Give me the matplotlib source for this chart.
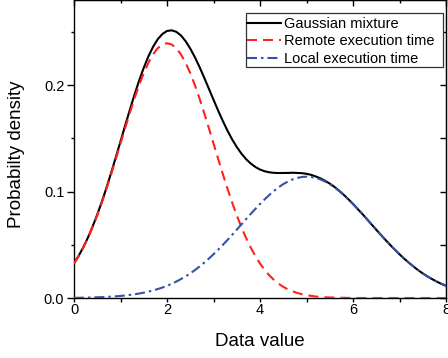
import numpy as np
import matplotlib
matplotlib.use("Agg")
import matplotlib.pyplot as plt
from matplotlib.patches import Rectangle
from matplotlib.ticker import MultipleLocator

plt.rcParams['font.family'] = ['Liberation Sans', 'DejaVu Sans']

# sample grid: 0 to 8, every 0.1
data_value = np.linspace(0, 8, 81)

# values
mixture = [0.0326, 0.0396, 0.0477, 0.0568, 0.0671, 0.0784, 0.0906, 0.1038, 0.1178, 0.1323,
           0.1471, 0.1621, 0.1767, 0.1909, 0.2042, 0.2163, 0.2270, 0.2360, 0.2431, 0.2480,
           0.2509, 0.2515, 0.2501, 0.2467, 0.2413, 0.2344, 0.2262, 0.2170, 0.2070, 0.1967,
           0.1863, 0.1761, 0.1664, 0.1573, 0.1491, 0.1419, 0.1357, 0.1305, 0.1264, 0.1231,
           0.1207, 0.1191, 0.1181, 0.1176, 0.1174, 0.1175, 0.1175, 0.1177, 0.1175, 0.1173,
           0.1167, 0.1157, 0.1142, 0.1124, 0.1101, 0.1075, 0.1044, 0.1009, 0.0970, 0.0928,
           0.0884, 0.0837, 0.0790, 0.0741, 0.0691, 0.0642, 0.0593, 0.0545, 0.0499, 0.0454,
           0.0411, 0.0370, 0.0332, 0.0296, 0.0262, 0.0231, 0.0203, 0.0178, 0.0154, 0.0133,
           0.0115]
remote = [0.0324, 0.0394, 0.0474, 0.0564, 0.0666, 0.0777, 0.0898, 0.1028, 0.1165, 0.1307,
          0.1452, 0.1597, 0.1738, 0.1874, 0.2000, 0.2113, 0.2210, 0.2289, 0.2347, 0.2382,
          0.2394, 0.2382, 0.2347, 0.2289, 0.2210, 0.2113, 0.2000, 0.1874, 0.1738, 0.1597,
          0.1452, 0.1307, 0.1165, 0.1028, 0.0898, 0.0777, 0.0666, 0.0564, 0.0474, 0.0394,
          0.0324, 0.0264, 0.0213, 0.0170, 0.0134, 0.0105, 0.0081, 0.0063, 0.0047, 0.0036,
          0.0027, 0.0020, 0.0014, 0.0010, 0.0007, 0.0005, 0.0004, 0.0003, 0.0002, 0.0001,
          0.0001, 0.0, 0.0, 0.0, 0.0, 0.0, 0.0, 0.0, 0.0, 0.0,
          0.0, 0.0, 0.0, 0.0, 0.0, 0.0, 0.0, 0.0, 0.0, 0.0,
          0.0]
local = [0.0002, 0.0002, 0.0003, 0.0004, 0.0005, 0.0007, 0.0008, 0.0010, 0.0013, 0.0016,
         0.0019, 0.0024, 0.0029, 0.0035, 0.0042, 0.0050, 0.0060, 0.0071, 0.0084, 0.0098,
         0.0115, 0.0133, 0.0154, 0.0178, 0.0203, 0.0231, 0.0262, 0.0296, 0.0332, 0.0370,
         0.0411, 0.0454, 0.0499, 0.0545, 0.0593, 0.0642, 0.0691, 0.0741, 0.0790, 0.0837,
         0.0883, 0.0927, 0.0968, 0.1006, 0.1040, 0.1070, 0.1094, 0.1114, 0.1128, 0.1137,
         0.1140, 0.1137, 0.1128, 0.1114, 0.1094, 0.1070, 0.1040, 0.1006, 0.0968, 0.0927,
         0.0883, 0.0837, 0.0790, 0.0741, 0.0691, 0.0642, 0.0593, 0.0545, 0.0499, 0.0454,
         0.0411, 0.0370, 0.0332, 0.0296, 0.0262, 0.0231, 0.0203, 0.0178, 0.0154, 0.0133,
         0.0115]

fig = plt.figure(figsize=(4.48, 3.58), dpi=100)
ax = fig.add_axes([74 / 448, 1 - 298 / 358, 372 / 448, 298 / 358])

ax.plot(data_value, mixture, color='black', lw=1.5, label='Gaussian mixture', zorder=3)
ax.plot(data_value, remote, color='#ff2020', lw=1.5, dashes=(4.8, 2.9), label='Remote execution time', zorder=4)
ax.plot(data_value, local, color='#3652a6', lw=1.5, dashes=(4.8, 1.9, 1.2, 1.9), label='Local execution time', zorder=4)

ax.set_xlim(0, 8)
ax.set_ylim(0, 0.28)
ax.xaxis.set_major_locator(MultipleLocator(2))
ax.xaxis.set_minor_locator(MultipleLocator(1))
ax.yaxis.set_major_locator(MultipleLocator(0.1))
ax.yaxis.set_minor_locator(MultipleLocator(0.05))
ax.yaxis.set_major_formatter(lambda v, p: f"{v:.1f}")

for s in ax.spines.values():
    s.set_linewidth(1.0)

ax.tick_params(axis='x', which='both', direction='out', length=3, width=1.0, labelsize=10.5, pad=0.5)
ax.tick_params(axis='y', which='major', direction='out', length=5, width=1.0, labelsize=10.5, pad=2)
ax.tick_params(axis='y', which='minor', direction='out', length=2.5, width=1.0)

# inward ticks on the top and right frame
top = ax.secondary_xaxis('top')
top.xaxis.set_major_locator(MultipleLocator(2))
top.xaxis.set_minor_locator(MultipleLocator(1))
top.tick_params(which='major', direction='in', length=4, width=1.0, labeltop=False)
top.tick_params(which='minor', direction='in', length=2, width=1.0)
right = ax.secondary_yaxis('right')
right.yaxis.set_major_locator(MultipleLocator(0.1))
right.yaxis.set_minor_locator(MultipleLocator(0.05))
right.tick_params(which='both', direction='in', length=4, width=1.0, labelright=False)

ax.set_xlabel('Data value', fontsize=13.5)
ax.set_ylabel('Probabilty density', fontsize=13.5)
ax.xaxis.set_label_coords(0.5, -0.117)
ax.yaxis.set_label_coords(-0.132, 0.483)

# legend box as in the reference: tight on the left, roomier on the right
ax.add_patch(Rectangle((0.4624, 0.7752), 0.5295, 0.1812, transform=ax.transAxes,
                       facecolor='white', edgecolor='#333333', lw=0.9, zorder=5))
leg = ax.legend(loc='upper left', bbox_to_anchor=(0.465, 0.943), borderaxespad=0,
                fontsize=10.5, handlelength=2.35, handletextpad=0.2, labelspacing=0.24,
                borderpad=0, frameon=False)
leg.set_zorder(6)

fig.savefig('out.png', dpi=100)
